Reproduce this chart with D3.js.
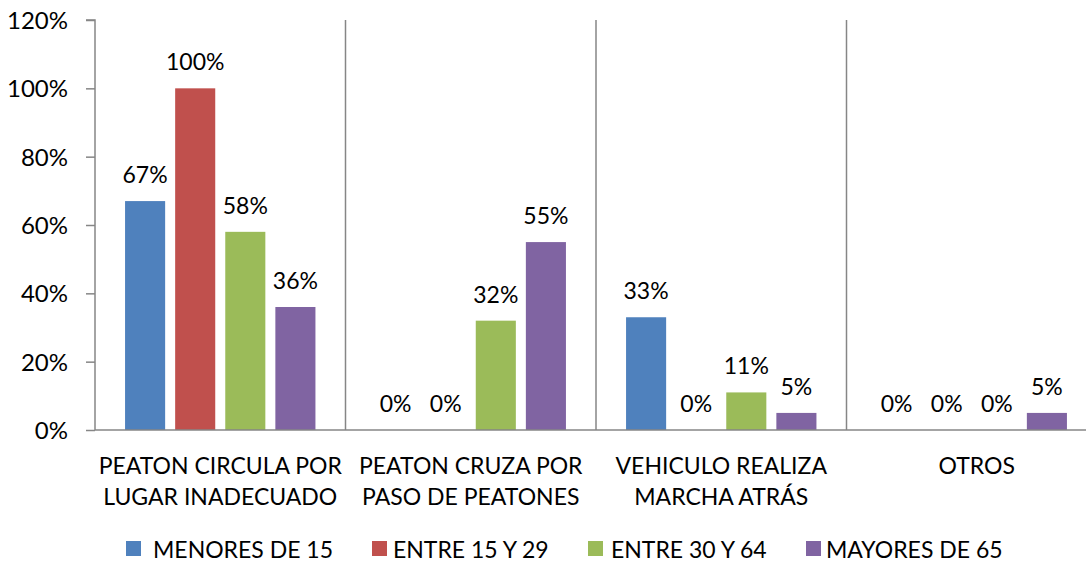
<!DOCTYPE html>
<html><head><meta charset="utf-8">
<script src="https://cdn.jsdelivr.net/npm/d3@7"></script>
<style>body{margin:0;background:#fff}svg{display:block}text{font-family:Lato,"Open Sans",sans-serif;fill:#000}</style>
</head><body><svg id="c" width="1086" height="565"></svg>
<script>
const categories = [["PEATON CIRCULA POR","LUGAR INADECUADO"],["PEATON CRUZA POR","PASO DE PEATONES"],["VEHICULO REALIZA","MARCHA ATRÁS"],["OTROS"]];
const seriesNames = ["MENORES DE 15","ENTRE 15 Y 29","ENTRE 30 Y 64","MAYORES DE 65"];
const menores15 = [0.67, 0, 0.33, 0];
const entre15y29 = [1.00, 0, 0, 0];
const entre30y64 = [0.58, 0.32, 0.11, 0];
const mayores65 = [0.36, 0.55, 0.05, 0.05];
const yTicks = [0, 0.2, 0.4, 0.6, 0.8, 1.0, 1.2];
const colors = ["#4F81BD","#C0504D","#9BBB59","#8064A2"];
const seriesValues = [menores15, entre15y29, entre30y64, mayores65];

const svg = d3.select("#c");
const catIdx = categories.map((d,i)=>i);
const x = d3.scaleBand().domain(catIdx).range([95, 1097]).padding(0);
const xs = d3.scaleBand().domain(d3.range(4)).range([0, x.bandwidth()]).paddingInner(0.2).paddingOuter(0.6);
const y = d3.scaleLinear().domain([0, 1.2]).range([430, 20]);
const axisColor = "#868686";
const fs = 23;

svg.append("g").selectAll("line").data(catIdx.slice(1)).join("line")
  .attr("x1", d=>x(d)).attr("x2", d=>x(d)).attr("y1", y(1.2)).attr("y2", y(0))
  .attr("stroke", axisColor).attr("stroke-width", 1.5);

seriesValues.forEach((vals, s) => {
  const g = svg.append("g");
  g.selectAll("rect").data(vals).join("rect")
    .attr("x", (d,i)=>x(i)+xs(s)).attr("width", xs.bandwidth())
    .attr("y", d=>y(d)).attr("height", d=>y(0)-y(d))
    .attr("fill", colors[s]);
  g.selectAll("text").data(vals).join("text")
    .attr("x", (d,i)=>x(i)+xs(s)+xs.bandwidth()/2)
    .attr("y", d=>y(d)-18)
    .attr("text-anchor","middle").attr("font-size", fs)
    .text(d=>Math.round(d*100)+"%");
});

const yAxis = d3.axisLeft(y).tickValues(yTicks).tickFormat(d=>Math.round(d*100)+"%").tickSize(9).tickPadding(18);
const ga = svg.append("g").attr("transform","translate(95,0)").call(yAxis);
ga.select(".domain").attr("stroke", axisColor).attr("stroke-width",1.5).attr("d","M-9,20H0V430");
ga.selectAll(".tick line").attr("stroke", axisColor).attr("stroke-width",1.5);
ga.selectAll(".tick text").attr("font-size", fs+1).attr("font-family","Lato, 'Open Sans', sans-serif").attr("fill","#000").attr("dy","0.35em");

svg.append("line").attr("x1",95).attr("x2",1097).attr("y1",y(0)).attr("y2",y(0)).attr("stroke",axisColor).attr("stroke-width",1.5);

const cl = svg.append("g").selectAll("text").data(categories).join("text")
  .attr("text-anchor","middle").attr("font-size",fs)
  .attr("transform",(d,i)=>`translate(${x(i)+x.bandwidth()/2 + (i===3?5:0)},474)`);
cl.selectAll("tspan").data(d=>d).join("tspan").attr("x",0).attr("dy",(d,i)=>i?31:0).text(d=>d);

const legX = [126, 372, 588, 806];
const lg = svg.append("g").selectAll("g").data(seriesNames).join("g")
  .attr("transform",(d,i)=>`translate(${legX[i]},541)`);
lg.append("rect").attr("width",15).attr("height",15).attr("fill",(d,i)=>colors[i]);
lg.append("text").attr("x",(d,i)=>i===0?27:i===1?21:i===2?23:20).attr("y",17).attr("font-size",fs).text(d=>d);
</script></body></html>
